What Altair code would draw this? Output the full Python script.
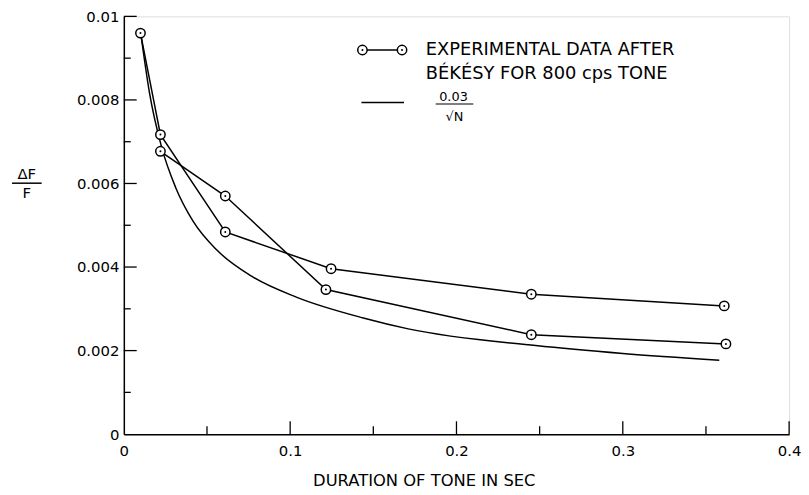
import altair as alt
import pandas as pd

# ---- data ----
s1_x = [0.010, 0.022, 0.061, 0.1246, 0.245, 0.361]
s1_y = [0.0096, 0.00717, 0.00484, 0.00396, 0.00335, 0.00307]
s2_x = [0.022, 0.061, 0.1215, 0.245, 0.362]
s2_y = [0.00677, 0.0057, 0.00346, 0.00238, 0.00216]
curve_x = [0.0105, 0.0153, 0.0225, 0.0312, 0.0416, 0.0561, 0.0768, 0.1037,
           0.144, 0.171, 0.2476, 0.30, 0.358]
curve_y = [0.0095, 0.0082, 0.0069, 0.0059, 0.0051, 0.0044, 0.00378, 0.00328,
           0.00278, 0.00252, 0.00212, 0.00193, 0.00177]
x_ticks = [0, 0.1, 0.2, 0.3, 0.4]
y_ticks = [0, 0.002, 0.004, 0.006, 0.008, 0.01]
x_major = [0.1, 0.2, 0.3, 0.4]
x_minor = [0.05, 0.15, 0.25, 0.35]
y_major = [0.002, 0.004, 0.006, 0.008, 0.01]
y_minor = [0.001, 0.003, 0.005, 0.007, 0.009]
legend_1a = "EXPERIMENTAL DATA AFTER"
legend_1b = "BÉKÉSY FOR 800 cps TONE"
legend_2_num = "0.03"
legend_2_den = "√N"
x_title = "DURATION OF TONE IN SEC"

W, H = 672, 422
FONT = "DejaVu Sans"

exp = pd.concat([
    pd.DataFrame({"x": s1_x, "y": s1_y, "s": "a"}),
    pd.DataFrame({"x": s2_x, "y": s2_y, "s": "b"}),
])
curve = pd.DataFrame({"x": curve_x, "y": curve_y})

xs = alt.Scale(domain=[0, 0.4], nice=False, zero=False)
ys = alt.Scale(domain=[0, 0.01], nice=False, zero=False)

xax = alt.Axis(values=x_ticks, format="~g", grid=False, ticks=False, tickSize=0,
               domainColor="black", domainWidth=1.5, labelColor="black",
               labelFont=FONT, labelFontSize=15, labelPadding=10, labelFlush=False,
               title=x_title, titleFont=FONT, titleFontSize=16.5,
               titleFontWeight="normal", titleColor="black",
               titleX=303, titleY=52, titleAlign="center", titleBaseline="alphabetic")
yax = alt.Axis(values=y_ticks, format="~g", grid=False, ticks=False, tickSize=0,
               domainColor="black", domainWidth=1.5, labelColor="black",
               labelFont=FONT, labelFontSize=15, labelPadding=5, labelFlush=False,
               title=None)

X = alt.X("x:Q", scale=xs, axis=xax)
Y = alt.Y("y:Q", scale=ys, axis=yax)

lines = alt.Chart(exp).mark_line(color="black", strokeWidth=1.5).encode(
    x=X, y=Y, detail="s:N")
circles = alt.Chart(exp).mark_point(shape="circle", filled=True, fill="white",
                                    stroke="black", strokeWidth=1.5, size=90,
                                    opacity=1).encode(x=X, y=Y)
dots = alt.Chart(exp).mark_point(shape="circle", filled=True, color="black",
                                 size=4, opacity=1).encode(x=X, y=Y)
theory = alt.Chart(curve).mark_line(color="black", strokeWidth=1.5,
                                    interpolate="monotone").encode(x=X, y=Y)

def xticks(vals, length):
    return alt.Chart(pd.DataFrame({"x": vals})).mark_rule(
        color="black", strokeWidth=1.3).encode(
        x=alt.X("x:Q", scale=xs), y=alt.value(H), y2=alt.value(H - length))

def yticks(vals, length):
    return alt.Chart(pd.DataFrame({"y": vals})).mark_rule(
        color="black", strokeWidth=1.3).encode(
        y=alt.Y("y:Q", scale=ys), x=alt.value(0), x2=alt.value(length))

one = pd.DataFrame({"k": [0]})

def txt(t, x, y, size=15, align="center"):
    return alt.Chart(pd.DataFrame({"t": [t]})).mark_text(
        font=FONT, fontSize=size, color="black", align=align,
        baseline="middle").encode(x=alt.value(x), y=alt.value(y), text="t:N")

def hline(x1, x2, y, w=1.5):
    return alt.Chart(one).mark_rule(color="black", strokeWidth=w).encode(
        x=alt.value(x1), x2=alt.value(x2), y=alt.value(y))

leg_pts = pd.DataFrame({"px": [241, 281], "py": [34, 34]})
leg_circles = alt.Chart(leg_pts).mark_point(
    shape="circle", filled=True, fill="white", stroke="black", strokeWidth=1.5,
    size=90, opacity=1).encode(x=alt.X("px:Q", scale=None), y=alt.Y("py:Q", scale=None))
leg_dots = alt.Chart(leg_pts).mark_point(
    shape="circle", filled=True, color="black", size=4, opacity=1).encode(
    x=alt.X("px:Q", scale=None), y=alt.Y("py:Q", scale=None))

chart = alt.layer(
    lines, theory, circles, dots,
    xticks(x_major, 13), xticks(x_minor, 8),
    yticks(y_major, 13), yticks(y_minor, 7),
    txt("ΔF", -98, 159, 15), hline(-113, -83, 168.5), txt("F", -98, 178, 15),
    hline(241, 281, 34), leg_circles, leg_dots,
    txt(legend_1a, 305, 34, 18, "left"), txt(legend_1b, 305, 58, 18, "left"),
    hline(240, 283, 87),
    txt(legend_2_num, 333, 81, 13), hline(315, 353, 88.5, 1.2),
    txt(legend_2_den, 334, 102, 13),
).properties(
    width=W, height=H,
    autosize=alt.AutoSizeParams(type="none"),
    padding={"left": 117, "top": 6, "right": 12, "bottom": 58},
).configure_view(stroke=None).configure(background="white")

chart.save("out.html", embed_options={"renderer": "svg", "actions": False})
